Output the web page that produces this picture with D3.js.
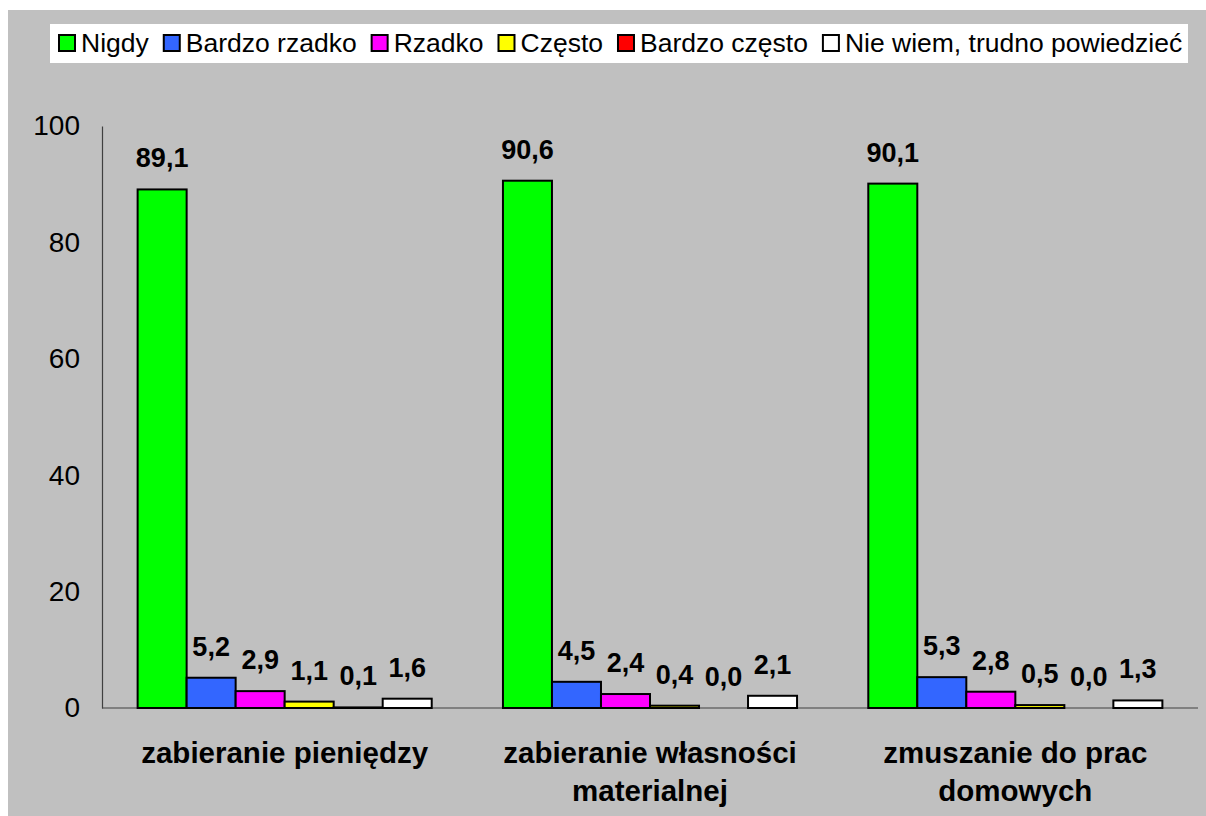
<!DOCTYPE html>
<html>
<head>
<meta charset="utf-8">
<script src="https://cdn.jsdelivr.net/npm/d3@7"></script>
<style>
  html,body{margin:0;padding:0;background:#fff;}
  svg{display:block;font-family:"Liberation Sans",Arial,sans-serif;}
</style>
</head>
<body>
<div id="chart"></div>
<script>
const categories = [
  ['zabieranie pieniędzy'],
  ['zabieranie własności', 'materialnej'],
  ['zmuszanie do prac', 'domowych']
];
const seriesNames = ['Nigdy', 'Bardzo rzadko', 'Rzadko', 'Często', 'Bardzo często', 'Nie wiem, trudno powiedzieć'];
const seriesColors = ['#00ff00', '#3366ff', '#ff00ff', '#ffff00', '#ff0000', '#ffffff'];
const nigdy        = [89.1, 90.6, 90.1];
const bardzoRzadko = [5.2, 4.5, 5.3];
const rzadko       = [2.9, 2.4, 2.8];
const czesto       = [1.1, 0.4, 0.5];
const bardzoCzesto = [0.1, 0.0, 0.0];
const nieWiem      = [1.6, 2.1, 1.3];
const yTicks = [0, 20, 40, 60, 80, 100];

const series = [nigdy, bardzoRzadko, rzadko, czesto, bardzoCzesto, nieWiem];

const W = 1206, H = 816;
const m = {left: 102, right: 8, top: 126, bottom: 108};
const svg = d3.select('#chart').append('svg').attr('width', W).attr('height', H);

// background
svg.append('rect').attr('x', 8).attr('y', 10).attr('width', W - 8).attr('height', H - 10).attr('fill', '#c0c0c0');

const x0 = d3.scaleBand().domain(d3.range(categories.length)).range([m.left, W - m.right]).paddingInner(0.195).paddingOuter(0.0975);
const x1 = d3.scaleBand().domain(d3.range(seriesNames.length)).range([0, x0.bandwidth()]);
const y = d3.scaleLinear().domain([0, 100]).range([H - m.bottom, m.top]);

// y axis
const ya = svg.append('g').attr('transform', `translate(${m.left},0)`)
  .call(d3.axisLeft(y).tickValues(yTicks).tickSize(0).tickPadding(22));
ya.select('.domain').attr('stroke', '#404040').attr('stroke-width', 1.2);
ya.selectAll('text').attr('font-size', '28px').attr('fill', '#000')
  .attr('font-family', '"Liberation Sans",Arial,sans-serif');

// x axis line
svg.append('line').attr('x1', m.left).attr('x2', W - m.right)
  .attr('y1', y(0)).attr('y2', y(0)).attr('stroke', '#404040').attr('stroke-width', 1.2);

// bars + value labels
series.forEach((vals, s) => {
  const g = svg.append('g');
  vals.forEach((v, c) => {
    const bx = x0(c) + x1(s);
    if (v > 0) {
      g.append('rect')
        .attr('x', bx).attr('y', y(v))
        .attr('width', x1.bandwidth()).attr('height', y(0) - y(v))
        .attr('fill', seriesColors[s]).attr('stroke', '#000').attr('stroke-width', 2);
    }
    g.append('text')
      .attr('x', bx + x1.bandwidth() / 2).attr('y', y(v) - 22)
      .attr('text-anchor', 'middle').attr('font-size', '27px').attr('font-weight', 'bold')
      .attr('fill', '#000').text(v.toFixed(1).replace('.', ','));
  });
});

// category labels
categories.forEach((lines, c) => {
  const cx = x0(c) + x0.bandwidth() / 2;
  const t = svg.append('text').attr('x', cx)
    .attr('y', 763).attr('text-anchor', 'middle').attr('font-size', '29.5px').attr('font-weight', 'bold').attr('fill', '#000');
  lines.forEach((l, i) => t.append('tspan').attr('x', cx).attr('dy', i ? 38 : 0).text(l));
});

// legend
const lg = svg.append('g');
lg.append('rect').attr('x', 50).attr('y', 24).attr('width', 1138).attr('height', 39).attr('fill', '#fff');
let lx = 58;
seriesNames.forEach((n, i) => {
  lg.append('rect').attr('x', lx + 1).attr('y', 35).attr('width', 16).attr('height', 16)
    .attr('fill', seriesColors[i]).attr('stroke', '#000').attr('stroke-width', 2);
  const t = lg.append('text').attr('x', lx + 23).attr('y', 52).attr('font-size', '26.5px').attr('fill', '#000').text(n);
  lx += 23 + t.node().getComputedTextLength() + 14;
});
</script>
</body>
</html>
